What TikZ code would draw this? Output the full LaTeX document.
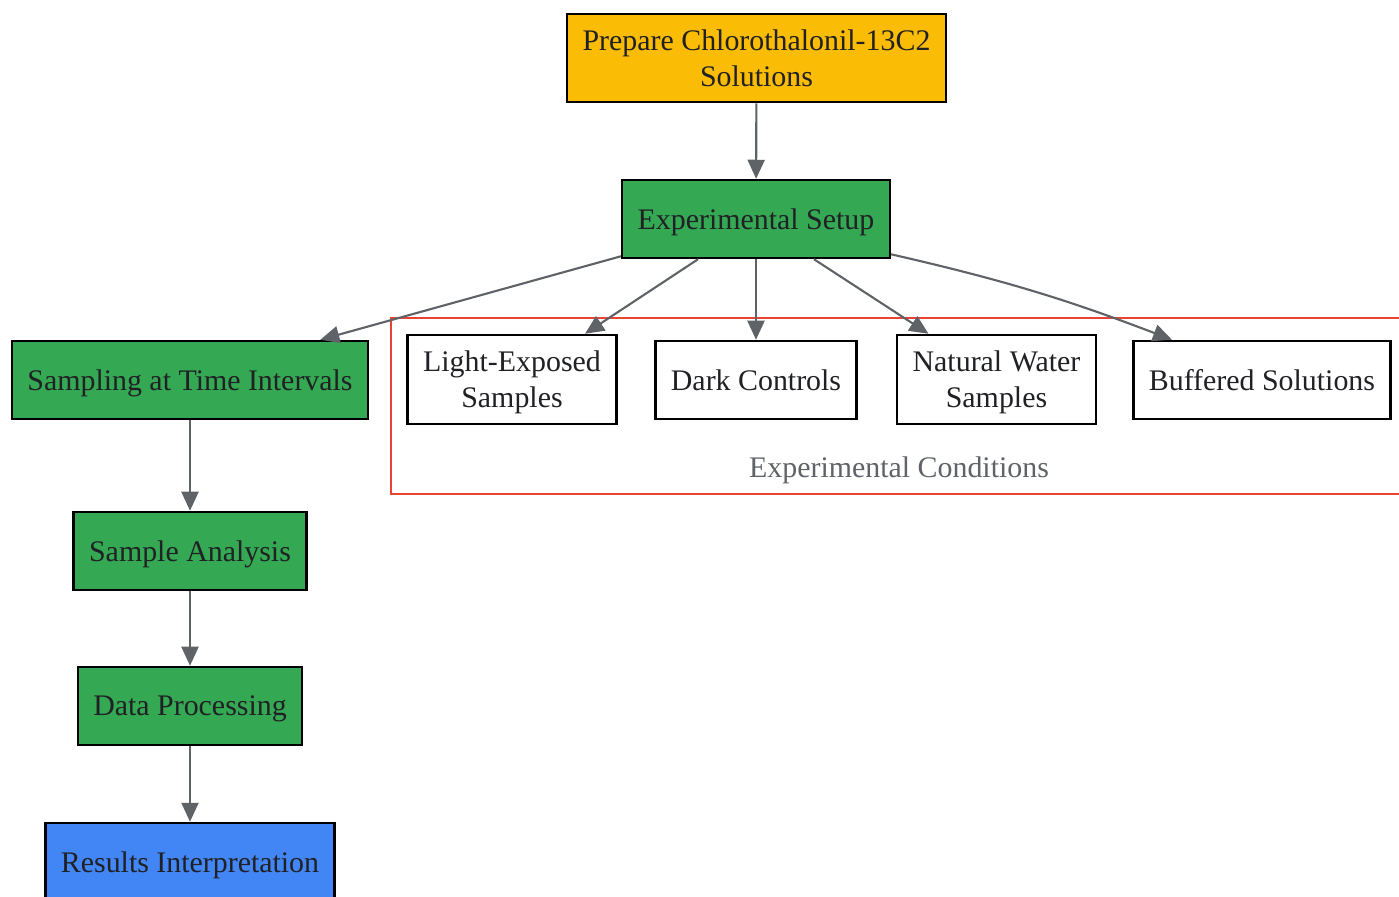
\documentclass[tikz,border=0pt]{standalone}
\usepackage{fontspec}
\setmainfont{Liberation Serif}
\usetikzlibrary{arrows.meta,calc}
\definecolor{gold}{HTML}{FBBC05}
\definecolor{leaf}{HTML}{34A853}
\definecolor{sky}{HTML}{4285F4}
\definecolor{brick}{HTML}{EA4335}
\definecolor{ink}{HTML}{202124}
\definecolor{slate}{HTML}{5F6368}
\tikzset{
    box/.style = {draw=black, line width=0.7pt, fill=white, text=ink, align=center,
        inner xsep=0.155cm, minimum height=0.78cm, text depth=0pt,
        font=\fontsize{8.5}{10.25}\selectfont},
    edge/.style = {draw=slate, line width=0.6pt, -{Triangle[length=0.19cm, width=0.17cm]}}
}

\begin{document}
\begin{tikzpicture}[x=0.01cm, y=-0.01cm]
        \useasboundingbox (0, 0) rectangle (1399, 896);

        % cluster
        \draw[brick, line width=0.45pt] (391, 318) rectangle (1420, 494);
        \node[slate, font=\fontsize{8.5}{10.25}\selectfont] (condlabel) at (899, 470) {Experimental Conditions};

        \node[box, fill=gold, minimum height=0.88cm] (prepare) at (756.5, 58) {Prepare Chlorothalonil-13C2\\Solutions};
        \node[box, fill=leaf] (setup) at (756, 219) {Experimental Setup};

        \node[box, minimum height=0.89cm] (light) at (512, 379.5) {Light-Exposed\\Samples};
        \node[box] (dark) at (756, 380) {Dark Controls};
        \node[box, minimum height=0.89cm] (natural) at (996.5, 379.5) {Natural Water\\Samples};
        \node[box] (buffered) at (1262, 380) {Buffered Solutions};

        \node[box, fill=leaf] (sampling) at (190, 380) {Sampling at Time Intervals};
        \node[box, fill=leaf] (analysis) at (190, 551) {Sample Analysis};
        \node[box, fill=leaf] (processing) at (190, 706) {Data Processing};
        \node[box, fill=sky] (results) at (190, 862) {Results Interpretation};

        \draw[edge] (prepare) -- (setup);
        \draw[edge] ($(setup.south west)+(0, -3)$) -- ($(sampling.north east)+(-49, 0)$);
        \draw[edge] ($(setup.south)+(-58, 0)$) -- ($(light.north)+(73, 0)$);
        \draw[edge] (setup) -- (dark);
        \draw[edge] ($(setup.south)+(58, 0)$) -- ($(natural.north)+(-68, 0)$);
        \draw[edge] ($(setup.south east)+(0, -5)$) to[bend left=4] ($(buffered.north)+(-90, 0)$);
        \draw[edge] (sampling) -- (analysis);
        \draw[edge] (analysis) -- (processing);
        \draw[edge] (processing) -- (results);
    \end{tikzpicture}
\end{document}
